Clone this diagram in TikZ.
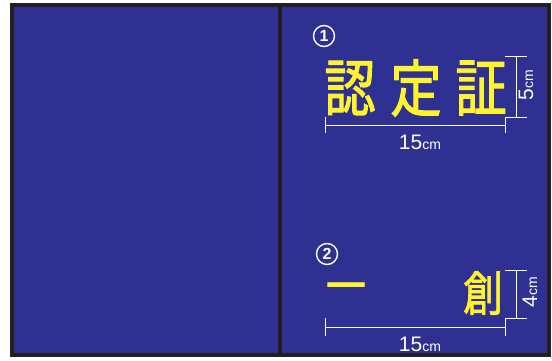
\documentclass[tikz,border=0pt]{standalone}
\usepackage{fontspec}
\setmainfont{Liberation Sans}
\newfontfamily\jpfont[FakeStretch=0.83, FakeBold=1.5]{Noto Sans CJK JP}
\definecolor{boardblue}{HTML}{2E3192}
\definecolor{boardedge}{HTML}{231F20}
\definecolor{letteryellow}{HTML}{FFF22E}

\begin{document}
\begin{tikzpicture}[x=1pt, y=-1pt,
    panel/.style={draw=boardedge, fill=boardblue, line width=4pt},
    kanji/.style={text=letteryellow, inner sep=0pt, font=\jpfont\fontsize{62}{62}\selectfont},
    kanjismall/.style={text=letteryellow, inner sep=0pt, font=\jpfont\fontsize{48}{48}\selectfont},
    numcircle/.style={circle, draw=white, line width=1.4pt, text=white, minimum size=21pt, inner sep=0pt, font=\bfseries\fontsize{16}{16}\selectfont},
    dimline/.style={draw=white, line width=1pt},
    dimlabel/.style={text=white, inner sep=0pt}
  ]
  \useasboundingbox (0,0) rectangle (552,360);
  % board
  \draw[panel] (12,5) rectangle (548.5,355);
  \draw[draw=boardedge, line width=4pt] (280,5) -- (280,355);

  % 1
  \node[numcircle] (num1) at (324,36) {1};
  \node[kanji] (nin) at (350,88) {認};
  \node[kanji] (tei) at (416,88) {定};
  \node[kanji] (sho) at (481,88) {証};
  \coordinate (wa1) at (325,117);
  \coordinate (wb1) at (325,133);
  \coordinate (wc1) at (505,117);
  \coordinate (wd1) at (505,133);
  \coordinate (wl1) at (325,125);
  \coordinate (wr1) at (505,125);
  \coordinate (ht1) at (505,56);
  \coordinate (hu1) at (527,56);
  \coordinate (hb1) at (527,117);
  \coordinate (vt1) at (516,56);
  \coordinate (vb1) at (516,117);
  \draw[dimline] (wa1) -- (wb1);
  \draw[dimline] (wd1) -- (wc1) -- (hb1);
  \draw[dimline] (wl1) -- (wr1);
  \draw[dimline] (ht1) -- (hu1);
  \draw[dimline] (vt1) -- (vb1);
  \node[dimlabel] (wlab1) at (420,142) {\fontsize{21}{21}\selectfont 15\fontsize{14}{14}\selectfont cm};
  \node[dimlabel, rotate=90] (hlab1) at (526,85) {\fontsize{21}{21}\selectfont 5\fontsize{14}{14}\selectfont cm};

  % 2
  \node[numcircle] (num2) at (327,254) {2};
  \node[kanjismall] (ichi) at (346,293) {一};
  \node[kanjismall] (sou) at (483,293) {創};
  \coordinate (wa2) at (325,318);
  \coordinate (wb2) at (325,336);
  \coordinate (wc2) at (505,318);
  \coordinate (wd2) at (505,336);
  \coordinate (wl2) at (325,327);
  \coordinate (wr2) at (505,327);
  \coordinate (ht2) at (505,270);
  \coordinate (hu2) at (527,270);
  \coordinate (hb2) at (527,318);
  \coordinate (vt2) at (516,270);
  \coordinate (vb2) at (516,318);
  \draw[dimline] (wa2) -- (wb2);
  \draw[dimline] (wd2) -- (wc2) -- (hb2);
  \draw[dimline] (wl2) -- (wr2);
  \draw[dimline] (ht2) -- (hu2);
  \draw[dimline] (vt2) -- (vb2);
  \node[dimlabel] (wlab2) at (420,344) {\fontsize{21}{21}\selectfont 15\fontsize{14}{14}\selectfont cm};
  \node[dimlabel, rotate=90] (hlab2) at (530,292) {\fontsize{21}{21}\selectfont 4\fontsize{14}{14}\selectfont cm};
\end{tikzpicture}
\end{document}
